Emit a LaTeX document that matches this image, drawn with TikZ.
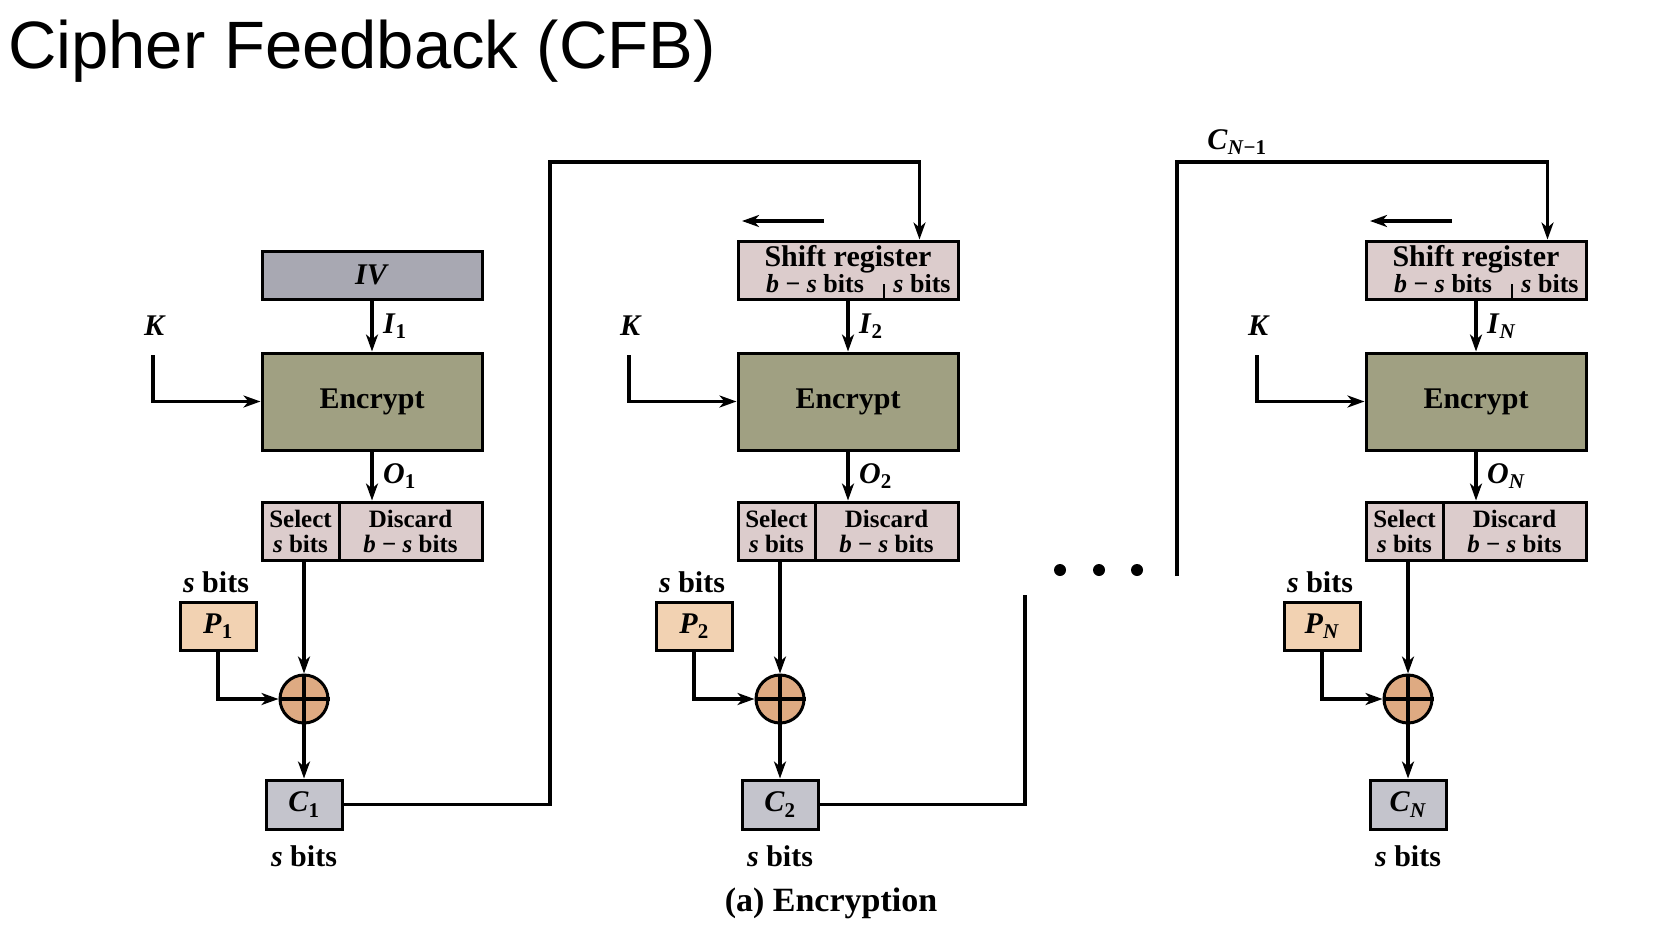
\documentclass[tikz,border=0pt]{standalone}
\usepackage{fontspec}
\setmainfont{Liberation Serif}
\newfontfamily\titlefont{Liberation Sans}
\usetikzlibrary{arrows.meta,calc}
\definecolor{ivgray}{RGB}{168,168,178}
\definecolor{cgray}{RGB}{196,196,204}
\definecolor{olivebox}{RGB}{160,160,130}
\definecolor{pinkbox}{RGB}{220,204,204}
\definecolor{peach}{RGB}{242,210,178}
\definecolor{xorfill}{RGB}{222,170,130}
\begin{document}
\begin{tikzpicture}[x=1pt,y=-1pt,
  bx/.style={draw=black, line width=3pt, inner sep=0pt, font=\bfseries\fontsize{30}{34}\selectfont},
  smallbx/.style={bx, align=center, font=\bfseries\fontsize{25}{25}\selectfont},
  arr/.style={line width=3.2pt, -{Stealth[length=17pt,width=12pt,inset=5pt]}},
  ln/.style={line width=3.2pt},
  lab/.style={inner sep=0pt, font=\bfseries\fontsize{30}{34}\selectfont},
  srlab/.style={inner sep=0pt, font=\bfseries\fontsize{26}{28}\selectfont},
  ]
\useasboundingbox (0,0) rectangle (1664,940);
\fill[white] (0,0) rectangle (1664,940);

\node[inner sep=0pt, anchor=base west, font=\titlefont\fontsize{67}{70}\selectfont] (title) at (8,68) {Cipher Feedback (CFB)};

% column 1 top box
\node[bx, fill=ivgray, minimum width=220, minimum height=48] (top1) at (372,275) {\textit{IV}};

% shift registers for columns 2 and N
\foreach \i/\dx in {2/476, N/1104}{
  \begin{scope}[xshift=\dx pt]
    \node[bx, fill=pinkbox, minimum width=220, minimum height=58] (top\i) at (372,270) {};
    \node[lab] (srt\i) at (372,259) {Shift register};
    \node[srlab] (srl\i) at (339,284) {\textit{b} − \textit{s} bits};
    \node[srlab] (srr\i) at (446,284) {\textit{s} bits};
    \coordinate (dva\i) at (408,284);
    \coordinate (dvb\i) at (408,299);
    \draw[line width=2.2pt] (dva\i) -- (dvb\i);
    \coordinate (sa\i) at (348,221);
    \coordinate (sb\i) at (266,221);
    \draw[arr] (sa\i) -- (sb\i);
  \end{scope}
}

% common parts of each column
\foreach \i/\dx/\sub in {1/0/1, 2/476/2, N/1104/{\textit{N}}}{
  \begin{scope}[xshift=\dx pt]
    \node[bx, fill=olivebox, minimum width=220, minimum height=97] (enc\i) at (372,401.5) {Encrypt};
    \node[smallbx, fill=pinkbox, minimum width=77, minimum height=58] (sel\i) at (300.5,531) {Select\\\textit{s} bits};
    \node[smallbx, fill=pinkbox, minimum width=143, minimum height=58] (dis\i) at (410.5,531) {Discard\\\textit{b} − \textit{s} bits};
    \node[draw=black, line width=3pt, fill=xorfill, circle, minimum size=48, inner sep=0pt] (x\i) at (304,699) {};
    \draw[ln] (x\i.north) -- (x\i.south) (x\i.west) -- (x\i.east);
    \node[bx, fill=peach, minimum width=76, minimum height=48] (p\i) at (218,626) {\textit{P}\textsubscript{\sub}};
    \node[lab] (ps\i) at (216,582) {\textit{s} bits};
    \node[bx, fill=cgray, minimum width=76, minimum height=49] (c\i) at (304,804.5) {\textit{C}\textsubscript{\sub}};
    \node[lab] (cs\i) at (304,856) {\textit{s} bits};
    \node[lab] (k\i) at (155,326) {\textit{K}};
    \coordinate (ks\i) at (153,355);
    \draw[arr] (ks\i) |- (enc\i.west);
    \draw[arr] (top\i.south) -- (enc\i.north);
    \node[lab, anchor=west] (il\i) at (383,326) {\textit{I}\textsubscript{\sub}};
    \draw[arr] (enc\i.south) -- (enc\i.south |- dis\i.north);
    \node[lab, anchor=west] (ol\i) at (383,476) {\textit{O}\textsubscript{\sub}};
    \draw[arr] (x\i.north |- sel\i.south) -- (x\i.north);
    \draw[arr] (p\i.south) |- (x\i.west);
    \draw[arr] (x\i.south) -- (c\i.north);
  \end{scope}
}

% feedback C1 -> shift register 2
\coordinate (fb1a) at (550,162);
\coordinate (in2) at ($(top2.north west)+(183,0)$);
\draw[arr] (c1.east) -| (fb1a) -| (in2);

% C2 continues
\coordinate (c2end) at (1025,595);
\draw[ln] (c2.east) -| (c2end);

% C_{N-1} -> shift register N
\coordinate (fbNs) at (1177,576);
\coordinate (fbNt) at (1177,162);
\coordinate (inN) at ($(topN.north west)+(183,0)$);
\draw[arr] (fbNs) -- (fbNt) -| (inN);
\node[lab] (cnm1) at (1237,142) {\textit{C}\textsubscript{\textit{N}−1}};

% dots
\fill (1060,570) circle (6);
\fill (1099,570) circle (6);
\fill (1137,570) circle (6);

\node[inner sep=0pt, font=\bfseries\fontsize{34}{36}\selectfont] (cap) at (831,903) {(a) Encryption};
\end{tikzpicture}
\end{document}
